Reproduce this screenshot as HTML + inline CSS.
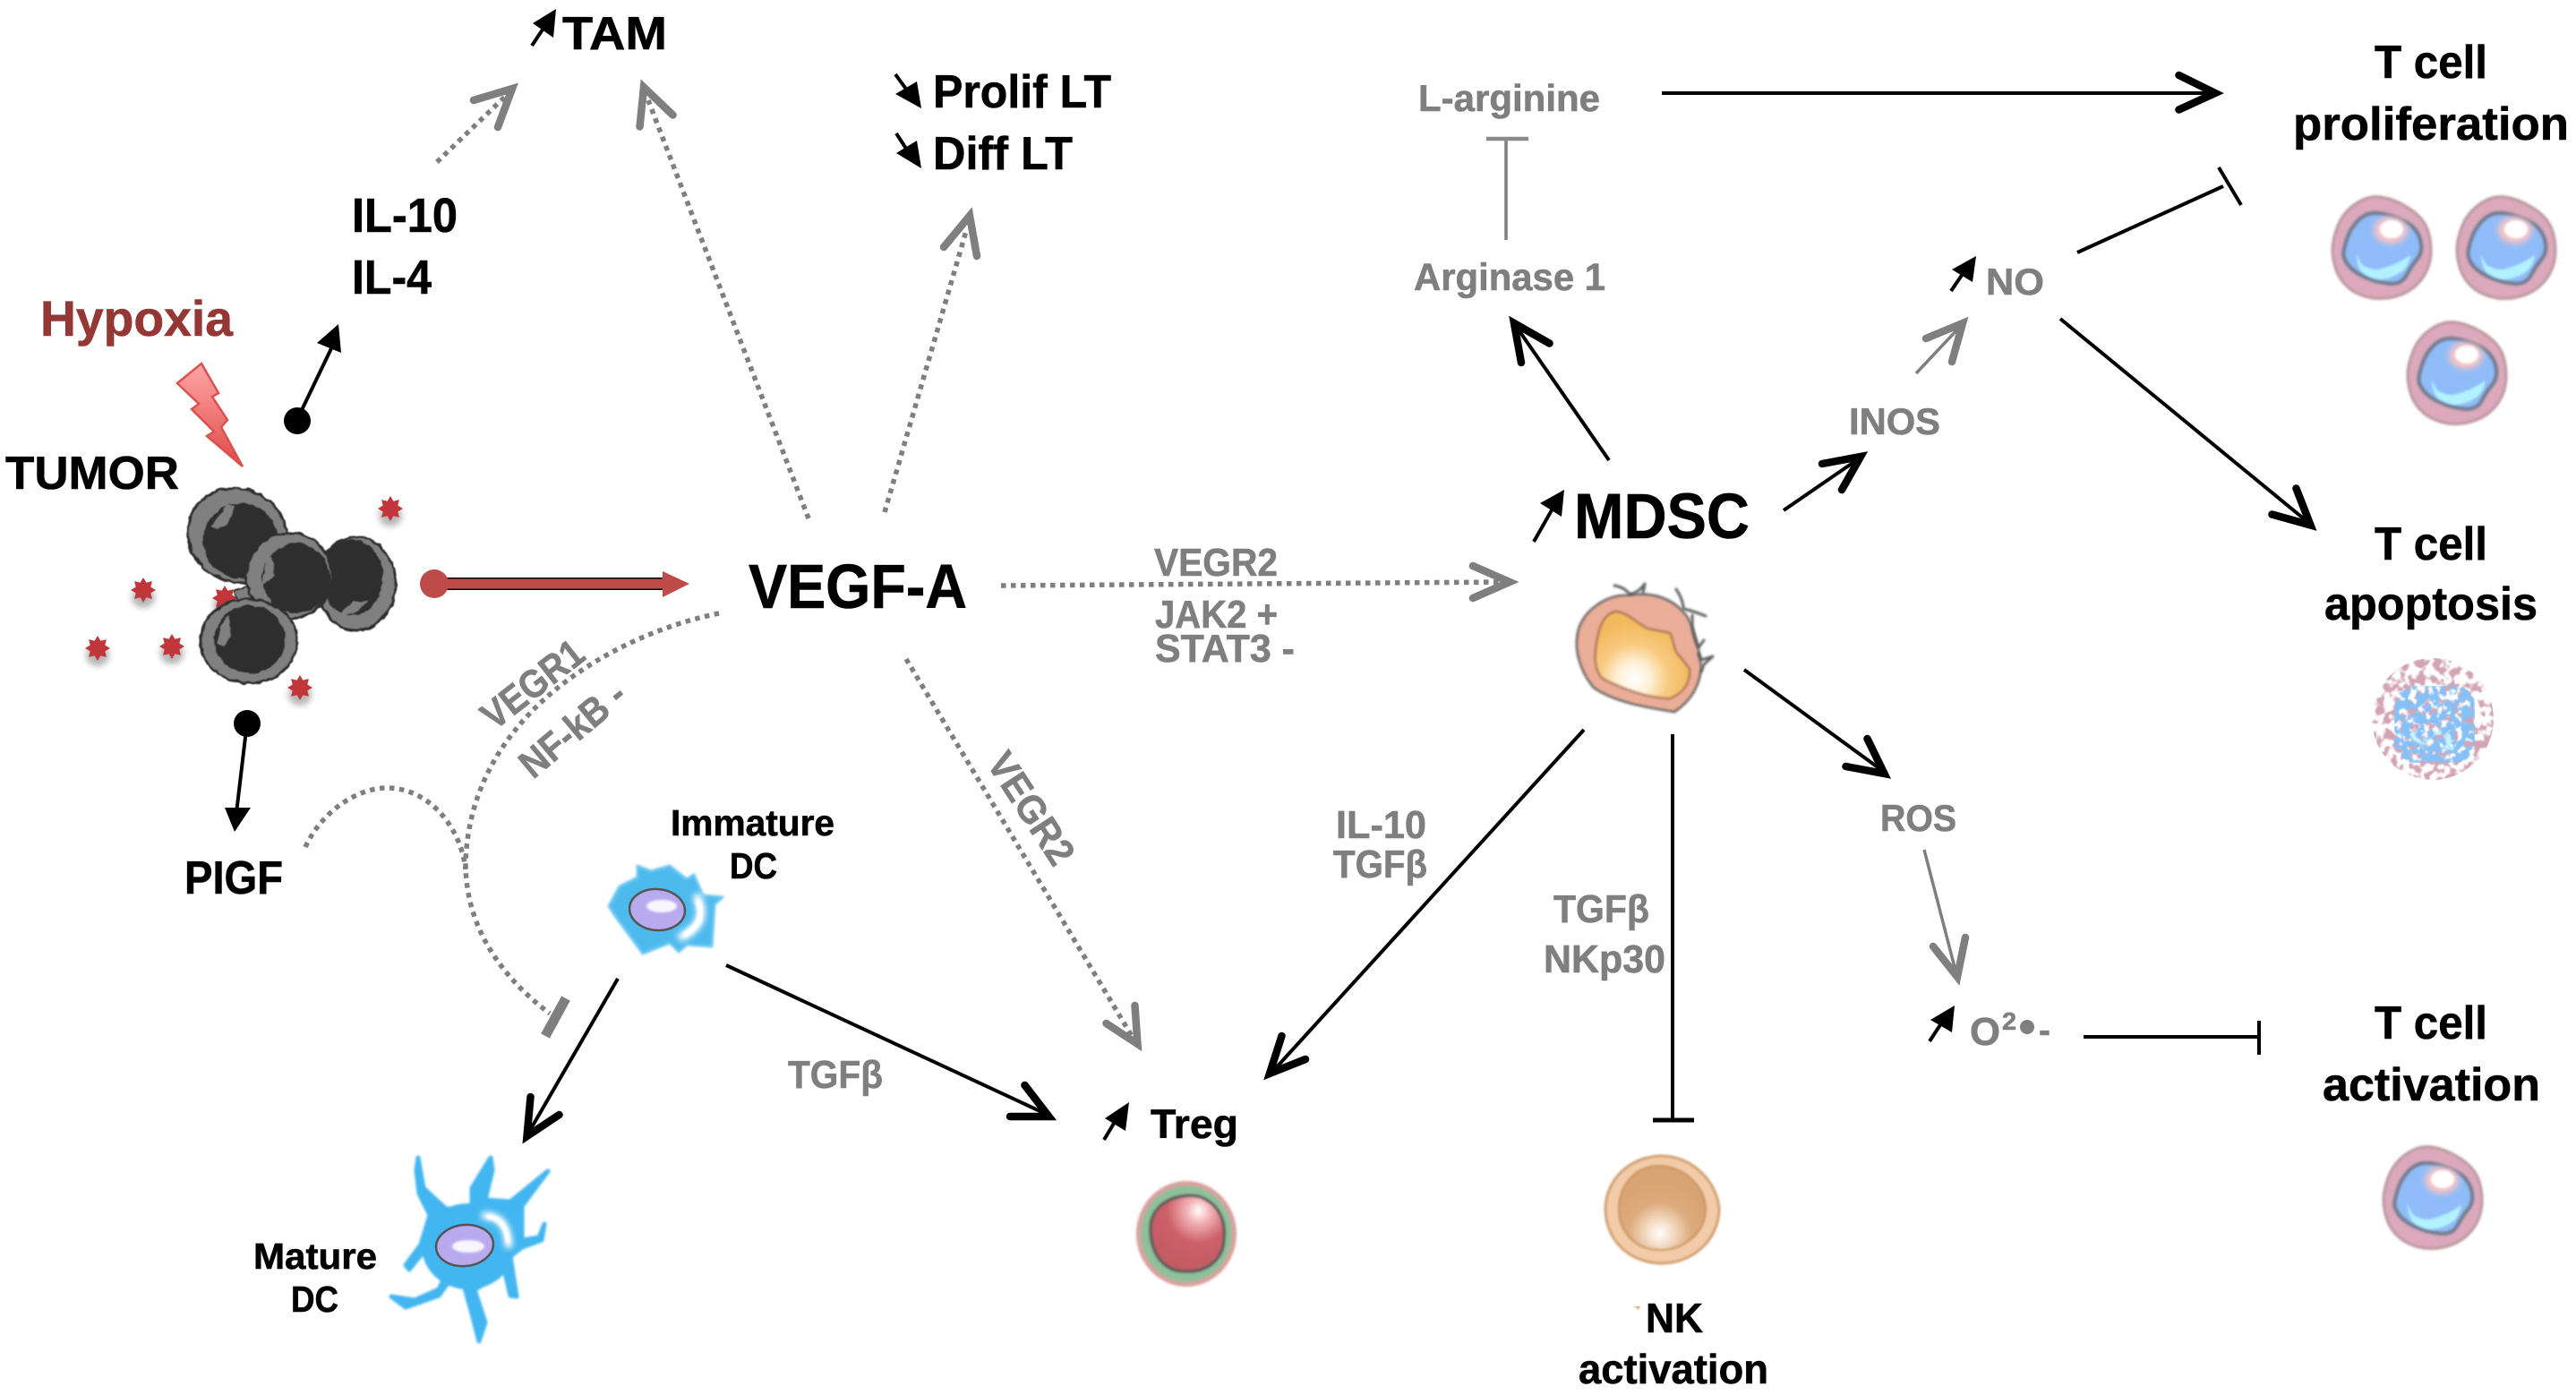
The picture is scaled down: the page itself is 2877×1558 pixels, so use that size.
<!DOCTYPE html>
<html><head><meta charset="utf-8"><style>
html,body{margin:0;padding:0;background:#fff}
svg{display:block}
text{font-family:"Liberation Sans","DejaVu Sans",sans-serif;font-weight:700;fill:#000;stroke:#000;stroke-width:.6}
text.g{fill:#7f7f7f;stroke:#7f7f7f}
.dot{fill:none;stroke:#7f7f7f;stroke-width:5.5;stroke-dasharray:5.5 5.5}
.gh{fill:none;stroke:#7f7f7f;stroke-width:8.5;stroke-linecap:round;stroke-linejoin:miter;stroke-miterlimit:8}
.l{fill:none;stroke:#000;stroke-width:4}
.lg{fill:none;stroke:#7f7f7f;stroke-width:3.5}
.h{fill:none;stroke:#000;stroke-width:8.5;stroke-linecap:round;stroke-linejoin:miter;stroke-miterlimit:8}
</style></head><body>
<svg xmlns="http://www.w3.org/2000/svg" width="2877" height="1558" viewBox="0 0 2877 1558">
<defs>
<linearGradient id="bolt" x1="0" y1="0" x2="0" y2="1"><stop offset="0" stop-color="#ffa6a6"/><stop offset="1" stop-color="#de4a46"/></linearGradient>
<radialGradient id="my" gradientUnits="userSpaceOnUse" cx="1825" cy="758" r="62"><stop offset="0" stop-color="#fff"/><stop offset=".3" stop-color="#fef0d6"/><stop offset=".62" stop-color="#f8ca80"/><stop offset="1" stop-color="#f3b95f"/></radialGradient>
<radialGradient id="nk" cx=".47" cy=".8" r=".6"><stop offset="0" stop-color="#fff"/><stop offset=".28" stop-color="#f3d8bf"/><stop offset=".6" stop-color="#dcab7c"/><stop offset="1" stop-color="#d9a473"/></radialGradient>
<radialGradient id="tr" cx=".65" cy=".2" r=".85"><stop offset="0" stop-color="#fff"/><stop offset=".18" stop-color="#f3b5b8"/><stop offset=".5" stop-color="#cc6069"/><stop offset="1" stop-color="#c05a62"/></radialGradient>
<filter id="rough" x="-10%" y="-10%" width="120%" height="120%"><feTurbulence type="fractalNoise" baseFrequency=".1" numOctaves="2" seed="4"/><feDisplacementMap in="SourceGraphic" scale="5" xChannelSelector="R" yChannelSelector="G"/><feGaussianBlur stdDeviation=".6"/></filter>
<filter id="soft" x="-20%" y="-20%" width="140%" height="140%"><feGaussianBlur stdDeviation="1.2"/></filter>
<filter id="sh" x="-60%" y="-60%" width="220%" height="220%"><feGaussianBlur stdDeviation="3.5"/></filter>
<filter id="speckA" x="0" y="0" width="100%" height="100%"><feTurbulence type="fractalNoise" baseFrequency=".11" numOctaves="2" seed="9" result="n"/><feColorMatrix in="n" type="matrix" values="0 0 0 0 0 0 0 0 0 0 0 0 0 0 0 9 0 0 0 -4.2" result="m"/><feComposite in="SourceGraphic" in2="m" operator="in"/><feGaussianBlur stdDeviation=".7"/></filter>
<filter id="speckB" x="0" y="0" width="100%" height="100%"><feTurbulence type="fractalNoise" baseFrequency=".12" numOctaves="2" seed="21" result="n"/><feColorMatrix in="n" type="matrix" values="0 0 0 0 0 0 0 0 0 0 0 0 0 0 0 9 0 0 0 -3.6" result="m"/><feComposite in="SourceGraphic" in2="m" operator="in"/><feGaussianBlur stdDeviation=".7"/></filter>
<filter id="speckC" x="0" y="0" width="100%" height="100%"><feTurbulence type="fractalNoise" baseFrequency=".13" numOctaves="2" seed="33" result="n"/><feColorMatrix in="n" type="matrix" values="0 0 0 0 0 0 0 0 0 0 0 0 0 0 0 9 0 0 0 -4.9" result="m"/><feComposite in="SourceGraphic" in2="m" operator="in"/><feGaussianBlur stdDeviation=".7"/></filter>
<g id="tcell">
<path d="M-49,-25 Q-43,-40 -29,-49.5 Q-15,-59 -1,-57 Q13,-55 28,-46 Q43,-37 49,-25.5 Q55,-14 55,3 Q55,20 46,33 Q37,46 22,52 Q7,58 -10,56 Q-27,53 -37,44.5 Q-47,36 -51,24.5 Q-55,13 -55,1.5 Q-55,-10 -49,-25Z" fill="#dca8bc" stroke="#b9989c" stroke-width="3" filter="url(#soft)"/>
<path d="M-39,-9.5 Q-35,-22 -26.5,-30.5 Q-18,-39 -7.5,-39 Q3,-39 16.5,-34 Q30,-29 36.5,-21.5 Q43,-14 44,-4 Q45,6 39,13 Q33,20 27.5,30.5 Q22,41 7.5,39.5 Q-7,38 -19.5,32 Q-32,26 -37,19.5 Q-42,13 -42.5,8 Q-43,3 -39,-9.5Z" fill="#8fbcf8" stroke="#747f90" stroke-width="4.5" filter="url(#soft)"/>
<ellipse cx="10" cy="-20" rx="19" ry="15" fill="#fbc4c4" filter="url(#sh)"/>
<ellipse cx="11" cy="-21" rx="13" ry="10" fill="#fff" filter="url(#soft)"/>
<path d="M-28,6 Q-24,18 -20,20 Q-8,26 0,23 Q18,18 32,8 Q30,20 23,26 Q10,35 -3,35 Q-16,33 -23,26 Q-28,18 -28,6Z" fill="#b2f2ff" filter="url(#soft)"/>
</g>
<g id="star"><ellipse cx="0" cy="8" rx="13" ry="12" fill="#888" opacity=".6" filter="url(#sh)"/><polygon points="0,-14 3.4,-8.3 9.9,-9.9 8.3,-3.4 14,0 8.3,3.4 9.9,9.9 3.4,8.3 0,14 -3.4,8.3 -9.9,9.9 -8.3,3.4 -14,0 -8.3,-3.4 -9.9,-9.9 -3.4,-8.3" fill="#c0363a"/></g>
</defs>
<rect width="2877" height="1558" fill="#fff"/>

<!-- tumor -->
<polygon points="225,406 244,439 237,443 254,469 247,477 271,521 231,487 239,482 214,457 222,451 198,428" fill="url(#bolt)" stroke="#d9524e" stroke-width="2.5"/>
<use href="#star" x="436" y="568"/><use href="#star" x="160" y="659"/><use href="#star" x="109" y="724"/><use href="#star" x="192" y="722"/><use href="#star" x="335" y="768"/><use href="#star" x="251" y="668"/>
<g filter="url(#rough)">
<ellipse cx="265" cy="598" rx="56" ry="52" transform="rotate(25 265 598)" fill="#808080" stroke="#2e2e2e" stroke-width="3"/>
<ellipse cx="269" cy="604" rx="42" ry="42" fill="#2e2e2e"/>
<polygon points="236,588 253,565 262,565 253,587 243,591" fill="#808080"/>
<ellipse cx="398" cy="652" rx="44" ry="52" fill="#808080" stroke="#2e2e2e" stroke-width="3"/>
<ellipse cx="393" cy="645" rx="35" ry="42" fill="#2e2e2e"/>
<polygon points="378,688 393,672 412,672 397,684" fill="#808080"/>
<path d="M262,660 L282,652 L290,668 L265,672Z" fill="#808080" stroke="#2e2e2e" stroke-width="2"/>
<ellipse cx="323" cy="643" rx="48" ry="48" fill="#808080" stroke="#2e2e2e" stroke-width="3"/>
<ellipse cx="331" cy="646" rx="38" ry="39" fill="#2e2e2e"/>
<polygon points="293,653 298,623 303,622 307,643" fill="#808080"/>
<ellipse cx="278" cy="716" rx="54" ry="47" fill="#808080" stroke="#2e2e2e" stroke-width="3"/>
<ellipse cx="279" cy="714" rx="40" ry="38" fill="#2e2e2e"/>
<polygon points="243,720 245,700 255,688 258,712 250,722" fill="#808080"/>
</g>

<!-- tumor arrows -->
<circle cx="332" cy="470" r="15"/><line class="l" x1="336" y1="460" x2="372" y2="385"/><polygon points="378,362 354,383 381,394"/>
<line x1="490" y1="652" x2="745" y2="652" stroke="#000" stroke-width="14"/>
<rect x="744" y="638" width="40" height="30" fill="#fff"/>
<circle cx="485" cy="652" r="16" fill="#bd4b48"/><line x1="495" y1="652" x2="745" y2="652" stroke="#bd4b48" stroke-width="11"/><polygon points="740,638 770,652 740,667" fill="#bd4b48"/>
<circle cx="276" cy="808" r="15"/><line class="l" x1="275" y1="815" x2="264" y2="908"/><polygon points="262,929 251,902 280,902"/>

<!-- dotted connectors -->
<line class="dot" x1="488" y1="181" x2="565" y2="107"/><polyline class="gh" points="529,112 572,99 556,142"/>
<line class="dot" x1="903" y1="579" x2="724" y2="112"/><polyline class="gh" points="714.5,141.5 719,97.5 751.5,128.5"/>
<line class="dot" x1="988" y1="572" x2="1079" y2="258"/><polyline class="gh" points="1054,276 1083,241 1091,286"/>
<line class="dot" x1="1118" y1="654" x2="1680" y2="650"/><polyline class="gh" points="1645,632 1686,650 1645,668"/>
<path class="dot" d="M803,685 C700,705 525,790 520,964 C520,1040 565,1095 614,1132"/>
<line x1="632" y1="1115" x2="609" y2="1157" stroke="#7f7f7f" stroke-width="11"/>
<path class="dot" d="M341,946 C360,905 400,880 432,880 C480,880 515,925 520,971"/>
<line class="dot" x1="1012" y1="736" x2="1264" y2="1157"/><polyline class="gh" points="1267.5,1123 1270.5,1166 1235.5,1143"/>

<!-- DC -->
<path d="M680,1012 L692,990 712,980 712,967 727,973 748,967 767,982 775,977 785,1000 807,1002 798,1010 795,1057 767,1055 758,1063 748,1053 718,1065 707,1050 690,1027Z" fill="#4dbaee" stroke="#6cc8f2" stroke-width="3" stroke-linejoin="round" filter="url(#soft)"/>
<path d="M779,1003 Q792,1030 762,1046" fill="none" stroke="#fff" stroke-width="10" stroke-linecap="round" filter="url(#sh)"/>
<path d="M780,1008 Q788,1030 766,1043" fill="none" stroke="#fff" stroke-width="6" stroke-linecap="round" filter="url(#soft)"/>
<ellipse cx="734" cy="1016" rx="31" ry="23" fill="#b9aaf0" stroke="#555" stroke-width="2.5" transform="rotate(5 734 1016)"/>
<ellipse cx="739" cy="1012" rx="17" ry="7" fill="#fff" opacity=".9" filter="url(#soft)"/>
<g filter="url(#soft)">
<ellipse cx="523" cy="1392" rx="52" ry="48" fill="#42b6f0"/>
<path d="M467,1293 L473,1327 498,1350 527,1350 527,1327 548,1293 550,1307 542,1340 570,1342 612,1308 583,1347 583,1385 602,1382 608,1367 605,1385 583,1393 570,1403 577,1448 570,1447 563,1417 543,1433 530,1440 542,1477 535,1498 527,1467 518,1435 500,1433 490,1447 453,1460 437,1448 463,1452 490,1440 495,1430 480,1413 473,1398 457,1418 453,1413 470,1390 480,1357 468,1333 465,1307Z" fill="#42b6f0" stroke="#42b6f0" stroke-width="5" stroke-linejoin="round"/>
</g>
<path d="M542,1358 Q566,1358 568,1390" fill="none" stroke="#fff" stroke-width="9" stroke-linecap="round" filter="url(#sh)"/>
<path d="M546,1359 Q565,1362 567,1386" fill="none" stroke="#fff" stroke-width="5" stroke-linecap="round" filter="url(#soft)"/>
<ellipse cx="519" cy="1391" rx="32" ry="23" fill="#b9aaf0" stroke="#555" stroke-width="2.5" transform="rotate(-6 519 1391)"/>
<ellipse cx="523" cy="1392" rx="18" ry="7" fill="#fff" opacity=".9" filter="url(#soft)"/>
<line class="l" x1="690" y1="1093" x2="591" y2="1264"/><polyline class="h" points="592.5,1225 588.5,1269 624.5,1245"/>
<line class="l" x1="811" y1="1078" x2="1168" y2="1244"/><polyline class="h" points="1144.5,1212 1171.5,1247 1128,1247"/>

<!-- Treg -->
<g filter="url(#soft)"><ellipse cx="1325" cy="1378" rx="56" ry="59" fill="#d9a09e"/><ellipse cx="1325" cy="1378" rx="51" ry="54" fill="#8fc09a"/>
<path d="M1285,1370 C1286,1345 1312,1332 1338,1336 C1358,1342 1370,1360 1367,1385 C1366,1405 1350,1421 1325,1420 C1300,1421 1284,1400 1285,1370Z" fill="url(#tr)" stroke="#5a5a5a" stroke-width="3.5"/></g>
<line class="l" x1="1233" y1="1273" x2="1248" y2="1248"/><polygon points="1261,1231 1234,1249 1257,1263"/>

<!-- MDSC -->
<line class="l" x1="1769" y1="815" x2="1422" y2="1196"/><polyline class="h" points="1431.5,1157 1418,1199 1458,1183"/>
<path d="M1763,703 C1770,680 1795,665 1815,665 C1845,660 1870,668 1885,690 C1895,710 1898,730 1900,745 C1898,770 1885,785 1870,795 C1840,790 1805,785 1780,768 C1765,750 1757,725 1763,703Z" fill="#eaae98" stroke="#666" stroke-width="2.8" filter="url(#soft)"/>
<path d="M1782,727 C1784,705 1790,685 1805,683 C1820,685 1830,698 1840,702 L1865,707 C1870,715 1868,725 1875,732 L1887,747 C1888,765 1878,775 1865,780 C1840,780 1810,768 1790,758 C1782,750 1781,738 1782,727Z" fill="url(#my)" stroke="#a96b50" stroke-width="2.2" filter="url(#soft)"/>
<path d="M1803,654 Q1815,656 1820,664 Q1830,662 1837,652 L1835,662 M1872,658 Q1880,670 1880,680 Q1890,682 1905,688 M1890,687 L1890,700 Q1892,715 1897,723 L1903,715 M1897,730 L1900,737 1913,733 1903,742 1900,750" fill="none" stroke="#5f5f5f" stroke-width="3" stroke-linejoin="round" stroke-linecap="round" filter="url(#soft)"/>
<line class="l" x1="1713" y1="605" x2="1734" y2="568"/><polygon points="1747,547 1720,562 1744,577"/>
<line class="l" x1="1797" y1="514" x2="1695" y2="367"/><polyline class="h" points="1699,405 1691,361 1730.5,383.5"/>
<line class="l" x1="1868" y1="820" x2="1868" y2="1250"/><line x1="1846" y1="1251" x2="1892" y2="1251" stroke="#000" stroke-width="5"/>
<g filter="url(#soft)"><path d="M1856,1291 C1890,1291 1918,1320 1920,1350 C1920,1385 1890,1411 1856,1411 C1820,1411 1793,1385 1793,1350 C1793,1318 1820,1291 1856,1291Z" fill="#f2cca8" stroke="#c98f55" stroke-width="2.5"/>
<path d="M1853,1302 C1880,1302 1905,1325 1905,1350 C1905,1378 1880,1396 1855,1396 C1828,1396 1808,1378 1808,1350 C1808,1325 1825,1302 1853,1302Z" fill="url(#nk)" stroke="#c98f55" stroke-width="2"/></g>
<polygon points="1825,1459 1832,1459 1830,1463" fill="#f0b48a"/>
<line class="lg" x1="1682" y1="268" x2="1682" y2="155"/><line x1="1660" y1="155" x2="1707" y2="155" stroke="#8a8a8a" stroke-width="4.5"/>
<line class="l" x1="1856" y1="104" x2="2468" y2="104"/><polyline class="h" points="2433.5,84 2474,104 2433.5,122.5"/>
<line class="l" x1="1992" y1="570" x2="2072" y2="515"/><polyline class="h" points="2035,518 2078,510 2057,547"/>
<line class="lg" x1="2140" y1="417" x2="2187" y2="367"/><polyline class="gh" points="2151,378 2192,361 2180,404"/>
<line class="l" x1="2179" y1="325" x2="2194" y2="303"/><polygon points="2207,286 2180,301 2203,315"/>
<line class="l" x1="2320" y1="282" x2="2483" y2="208"/><line class="l" x1="2478" y1="187" x2="2503" y2="229"/>
<line class="l" x1="2301" y1="356" x2="2575" y2="581"/><polyline class="h" points="2564.5,545.5 2580.5,586.5 2537.5,574.5"/>
<line class="l" x1="1948" y1="748" x2="2100" y2="859"/><polyline class="h" points="2085.5,825 2104.5,864 2061.5,856"/>
<line class="lg" x1="2149" y1="949" x2="2184" y2="1084"/><polyline class="gh" points="2195,1047 2186,1091 2159,1057"/>
<line class="l" x1="2155" y1="1163" x2="2170" y2="1140"/><polygon points="2183,1123 2156,1139 2180,1153"/>
<line class="l" x1="2327" y1="1158" x2="2523" y2="1158"/><line class="l" x1="2523" y1="1140" x2="2523" y2="1178"/>

<!-- T cells -->
<use href="#tcell" x="2660" y="277"/><use href="#tcell" x="2799" y="277"/><use href="#tcell" x="2744" y="417"/><use href="#tcell" x="2717" y="1338"/>
<rect x="2647" y="732" width="140" height="142" fill="#d3a5b4" filter="url(#speckA)" clip-path="circle(68px at 70px 71px)"/>
<rect x="2674" y="766" width="90" height="86" rx="22" fill="#85c0f6" filter="url(#speckB)"/>
<rect x="2690" y="815" width="55" height="22" rx="10" fill="#c5f3ff" filter="url(#speckC)"/>
<rect x="2715" y="768" width="30" height="30" rx="10" fill="#fff" filter="url(#speckC)"/>

<!-- labels -->
<text x="628" y="55" font-size="52" textLength="117" lengthAdjust="spacingAndGlyphs">TAM</text>
<text x="393" y="259" font-size="54" textLength="118" lengthAdjust="spacingAndGlyphs">IL-10</text>
<text x="393" y="328" font-size="54" textLength="89" lengthAdjust="spacingAndGlyphs">IL-4</text>
<text x="45" y="375" font-size="56" textLength="215" lengthAdjust="spacingAndGlyphs" style="fill:#953735;stroke:#953735">Hypoxia</text>
<text x="6" y="546" font-size="52" textLength="194" lengthAdjust="spacingAndGlyphs">TUMOR</text>
<text x="836" y="679" font-size="70" textLength="244" lengthAdjust="spacingAndGlyphs">VEGF-A</text>
<text x="1042" y="120" font-size="52" textLength="199" lengthAdjust="spacingAndGlyphs">Prolif LT</text>
<text x="1042" y="189" font-size="52" textLength="156" lengthAdjust="spacingAndGlyphs">Diff LT</text>
<polygon points="1029,121 1000,105 1024,91"/><line class="l" x1="1000" y1="83" x2="1016" y2="105"/>
<polygon points="1029,188 1001,171 1024,157"/><line class="l" x1="1001" y1="149" x2="1016" y2="172"/>
<line class="l" x1="594" y1="51" x2="608" y2="30"/><polygon points="621,10 595,26 618,42"/>
<text class="g" x="1584" y="124" font-size="42" textLength="203" lengthAdjust="spacingAndGlyphs">L-arginine</text>
<text class="g" x="1579" y="324" font-size="43" textLength="214" lengthAdjust="spacingAndGlyphs">Arginase 1</text>
<text class="g" x="1289" y="643" font-size="44" textLength="138" lengthAdjust="spacingAndGlyphs">VEGR2</text>
<text class="g" x="1290" y="701" font-size="44" textLength="137" lengthAdjust="spacingAndGlyphs">JAK2 +</text>
<text class="g" x="1290" y="739" font-size="44" textLength="156" lengthAdjust="spacingAndGlyphs">STAT3 -</text>
<text x="1758" y="601" font-size="71" textLength="196" lengthAdjust="spacingAndGlyphs">MDSC</text>
<text x="2652" y="87" font-size="52" textLength="126" lengthAdjust="spacingAndGlyphs">T cell</text>
<text x="2561" y="156" font-size="52" textLength="308" lengthAdjust="spacingAndGlyphs">proliferation</text>
<text class="g" x="2218" y="329" font-size="42" textLength="65" lengthAdjust="spacingAndGlyphs">NO</text>
<text class="g" x="2065" y="485" font-size="42" textLength="102" lengthAdjust="spacingAndGlyphs">INOS</text>
<text x="2652" y="625" font-size="52" textLength="126" lengthAdjust="spacingAndGlyphs">T cell</text>
<text x="2596" y="692" font-size="52" textLength="238" lengthAdjust="spacingAndGlyphs">apoptosis</text>
<text class="g" x="2100" y="928" font-size="42" textLength="85" lengthAdjust="spacingAndGlyphs">ROS</text>
<text class="g" x="2200" y="1167" font-size="44" textLength="34" lengthAdjust="spacingAndGlyphs">O</text>
<text class="g" x="2236" y="1150" font-size="28" textLength="16" lengthAdjust="spacingAndGlyphs">2</text>
<circle cx="2264" cy="1147" r="8" fill="#7f7f7f"/>
<text class="g" x="2277" y="1164" font-size="40" textLength="13" lengthAdjust="spacingAndGlyphs">-</text>
<text x="2652" y="1160" font-size="52" textLength="126" lengthAdjust="spacingAndGlyphs">T cell</text>
<text x="2594" y="1229" font-size="52" textLength="243" lengthAdjust="spacingAndGlyphs">activation</text>
<text x="1838" y="1488" font-size="46" textLength="64" lengthAdjust="spacingAndGlyphs">NK</text>
<text x="1763" y="1545" font-size="46" textLength="212" lengthAdjust="spacingAndGlyphs">activation</text>
<text x="1285" y="1271" font-size="45" textLength="98" lengthAdjust="spacingAndGlyphs">Treg</text>
<text class="g" x="1492" y="936" font-size="44" textLength="101" lengthAdjust="spacingAndGlyphs">IL-10</text>
<text class="g" x="1489" y="980" font-size="44" textLength="105" lengthAdjust="spacingAndGlyphs">TGFβ</text>
<text class="g" x="1735" y="1030" font-size="44" textLength="107" lengthAdjust="spacingAndGlyphs">TGFβ</text>
<text class="g" x="1724" y="1086" font-size="44" textLength="136" lengthAdjust="spacingAndGlyphs">NKp30</text>
<text class="g" x="880" y="1215" font-size="44" textLength="106" lengthAdjust="spacingAndGlyphs">TGFβ</text>
<text x="749" y="933" font-size="41" textLength="183" lengthAdjust="spacingAndGlyphs">Immature</text>
<text x="815" y="981" font-size="41" textLength="53" lengthAdjust="spacingAndGlyphs">DC</text>
<text x="283" y="1417" font-size="41" textLength="138" lengthAdjust="spacingAndGlyphs">Mature</text>
<text x="325" y="1465" font-size="41" textLength="53" lengthAdjust="spacingAndGlyphs">DC</text>
<text x="206" y="998" font-size="52" textLength="110" lengthAdjust="spacingAndGlyphs">PIGF</text>
<text class="g" transform="translate(604,776) rotate(-38)" x="-66" y="0" font-size="44" textLength="132" lengthAdjust="spacingAndGlyphs">VEGR1</text>
<text class="g" transform="translate(649,826) rotate(-40)" x="-70" y="0" font-size="44" textLength="140" lengthAdjust="spacingAndGlyphs">NF-kB -</text>
<text class="g" transform="translate(1139,911) rotate(57)" x="-70" y="0" font-size="44" textLength="140" lengthAdjust="spacingAndGlyphs">VEGR2</text>
</svg>
</body></html>
